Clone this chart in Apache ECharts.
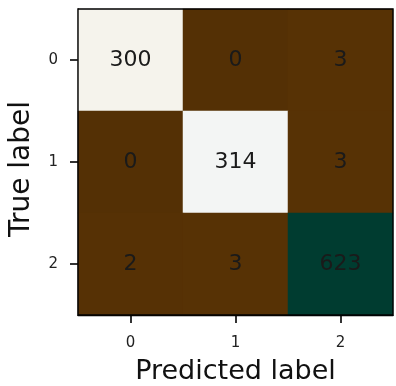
<!DOCTYPE html>
<html>
<head>
<meta charset="utf-8">
<script src="https://cdn.jsdelivr.net/npm/echarts@6/dist/echarts.min.js"></script>
<style>html,body{margin:0;padding:0;background:#fff}#c{width:396px;height:386px}</style>
</head>
<body>
<div id="c"></div>
<script>
var predictedLabels = ['0', '1', '2'];
var trueLabels = ['0', '1', '2'];
var row0 = [300, 0, 3];
var row1 = [0, 314, 3];
var row2 = [2, 3, 623];
var rows = [row0, row1, row2];

var data = [];
rows.forEach(function (r, yi) {
  r.forEach(function (v, xi) { data.push([xi, yi, v]); });
});
var vmax = Math.max.apply(null, data.map(function (d) { return d[2]; }));

var chart = echarts.init(document.getElementById('c'), null, {renderer: 'canvas'});
var font = 'DejaVu Sans';
chart.setOption({
  backgroundColor: '#fff',
  animation: false,
  grid: {left: 78, top: 9, width: 315, height: 306, containLabel: false, outerBoundsMode: 'none', show: true, borderColor: '#000', borderWidth: 1.4, backgroundColor: 'transparent', z: 10},
  xAxis: {
    type: 'category', data: predictedLabels,
    name: 'Predicted label', nameLocation: 'middle', nameGap: 43,
    nameTextStyle: {fontFamily: font, fontSize: 27, color: '#111'},
    axisLine: {show: true, lineStyle: {color: '#000', width: 1.4}},
    axisTick: {show: true, alignWithLabel: true, length: 8, lineStyle: {color: '#000', width: 1.6}},
    axisLabel: {fontFamily: font, fontSize: 15, color: '#222', margin: 21},
    splitLine: {show: false}
  },
  yAxis: {
    type: 'category', data: trueLabels, inverse: true,
    name: 'True label', nameLocation: 'middle', nameGap: 42, nameRotate: 90,
    nameTextStyle: {fontFamily: font, fontSize: 28, color: '#111', padding: [0, 14, 0, 0]},
    axisLine: {show: true, lineStyle: {color: '#000', width: 1.4}},
    axisTick: {show: true, alignWithLabel: true, length: 8, lineStyle: {color: '#000', width: 1.6}},
    axisLabel: {fontFamily: font, fontSize: 15, color: '#222', margin: 20},
    splitLine: {show: false}
  },
  visualMap: {
    show: false, min: 0, max: vmax, dimension: 2,
    inRange: {color: ['#543005', '#8c510a', '#bf812d', '#dfc27d', '#f6e8c3', '#f5f5f5', '#c7eae5', '#80cdc1', '#35978f', '#01665e', '#003c30']}
  },
  series: [{
    type: 'heatmap', data: data,
    label: {show: true, fontFamily: font, fontSize: 22, color: '#1a1a1a'},
    itemStyle: {borderWidth: 0},
    emphasis: {disabled: true}
  }]
});
</script>
</body>
</html>
